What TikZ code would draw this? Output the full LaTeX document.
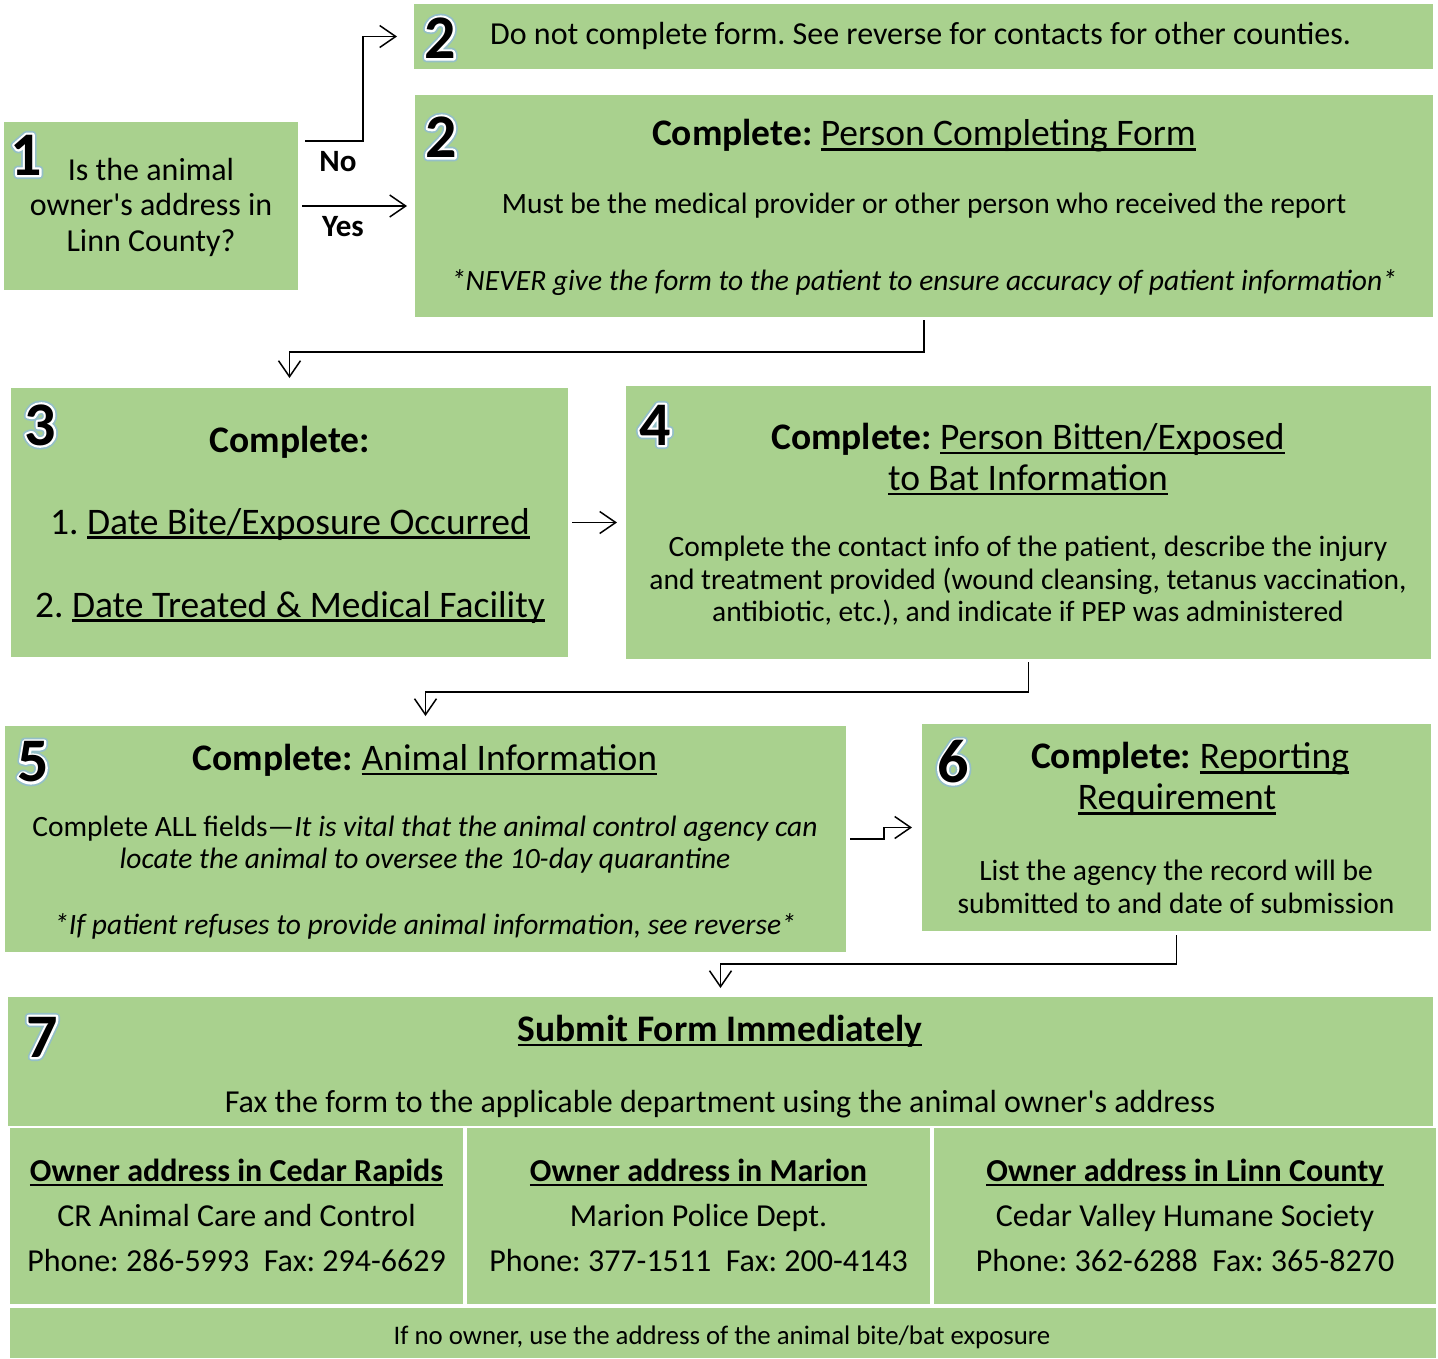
\documentclass[tikz,border=0pt]{standalone}
\usepackage{fontspec}
\setmainfont{Carlito}
\frenchspacing
\usetikzlibrary{arrows.meta,calc}
\definecolor{boxgreen}{HTML}{A9D18E}
\newcommand\fs[2]{\fontsize{#1}{#2}\selectfont}
\newlength\ulwd
\newcommand\uln[1]{\settowidth\ulwd{#1}\rlap{\rule[-0.13em]{\ulwd}{0.065em}}#1}
\tikzset{
  box/.style={fill=boxgreen, draw=none, anchor=north west, inner sep=0, outer sep=0},
  conn/.style={draw=black, line width=1.5pt, -{Straight Barb[length=16pt,width=22pt,line width=1.5pt]}},
  numtxt/.style={inner sep=0, font=\fs{62}{62}\bfseries},
  body/.style={inner sep=0, align=center, font=\fs{29.5}{33}},
  head/.style={inner sep=0, align=center, font=\fs{37.5}{41}},
  cell/.style={inner sep=0, font=\fs{32}{36}, text height=0.72em, text depth=0.22em},
  lbl/.style={inner sep=0, font=\fs{31}{34}\bfseries},
}
\newcommand\bignum[3]{%
  \node[numtxt] at (#2) {\special{pdf:literal direct q 1 Tr 8 w 1 j 0.58 0.75 0.78 RG}#3\special{pdf:literal direct Q}};
  \node[numtxt] at (#2) {\special{pdf:literal direct q 2 Tr 4.5 w 1 j 1 1 1 RG 1 1 1 rg}#3\special{pdf:literal direct Q}};
  \node[numtxt] (#1) at (#2) {#3};}
\begin{document}
\begin{tikzpicture}[x=1pt,y=-1pt]
\fill[white] (0,0) rectangle (1438,1358);
\useasboundingbox (0,0) rectangle (1438,1358);
% boxes
\node[box, minimum width=294, minimum height=168] (b1) at (4,122) {};
\node[box, minimum width=1019, minimum height=65] (b2a) at (414,4) {};
\node[box, minimum width=1018, minimum height=222] (b2b) at (415,95) {};
\node[box, minimum width=557, minimum height=269] (b3) at (11,388) {};
\node[box, minimum width=805, minimum height=273] (b4) at (626,386) {};
\node[box, minimum width=841, minimum height=226] (b5) at (5,726) {};
\node[box, minimum width=509, minimum height=207] (b6) at (922,724) {};
\node[box, minimum width=1425, minimum height=129] (b7) at (8,997) {};
\node[box, minimum width=453, minimum height=176] (c1) at (10,1128) {};
\node[box, minimum width=463, minimum height=176] (c2) at (467,1128) {};
\node[box, minimum width=502, minimum height=176] (c3) at (934,1128) {};
\node[box, minimum width=1426, minimum height=50] (b8) at (10,1308) {};
% numbers
\bignum{n1}{26,155}{1}
\bignum{n2a}{440,38}{2}
\bignum{n2b}{441,137}{2}
\bignum{n3}{40,425}{3}
\bignum{n4}{655,425}{4}
\bignum{n5}{33,762}{5}
\bignum{n6}{953,762}{6}
\bignum{n7}{42,1037}{7}
% box 1
\node[inner sep=0, align=center, font=\fs{32}{35.5}] (t1) at (151,207) {Is the animal\\owner\textquotesingle s address in\\Linn County?};
% box 2a
\node[inner sep=0, anchor=west, font=\fs{32}{36}] (t2a) at (490,36) {Do not complete form. See reverse for contacts for other counties.};
% box 2b
\node[head] (t2b1) at (924,136) {\textbf{Complete:} \uln{Person Completing Form}};
\node[body] (t2b2) at (924,206) {Must be the medical provider or other person who received the report};
\node[body, font=\fs{29.5}{33}\itshape] (t2b3) at (924,283) {*NEVER give the form to the patient to ensure accuracy of patient information*};
% box 3
\node[head, font=\fs{37.5}{41}\bfseries] (t31) at (290,442) {Complete:};
\node[head] (t32) at (290,524) {1. \uln{Date Bite/Exposure Occurred}};
\node[head] (t33) at (290,607) {2. \uln{Date Treated \& Medical Facility}};
% box 4
\node[head] (t41) at (1028,439) {\textbf{Complete:} \uln{Person Bitten/Exposed}};
\node[head] (t42) at (1028,480) {\uln{to Bat Information}};
\node[body, font=\fs{29.5}{32.5}] (t43) at (1028,581) {Complete the contact info of the patient, describe the injury\\and treatment provided (wound cleansing, tetanus vaccination,\\antibiotic, etc.), and indicate if PEP was administered};
% box 5
\node[head] (t51) at (425,760) {\textbf{Complete:} \uln{Animal Information}};
\node[body, font=\fs{29.5}{32}] (t52) at (425,845) {Complete ALL fields---\textit{It is vital that the animal control agency can}\\\textit{locate the animal to oversee the 10-day quarantine}};
\node[body, font=\fs{29.5}{33}\itshape] (t53) at (425,926) {*If patient refuses to provide animal information, see reverse*};
% box 6
\node[head] (t61) at (1190,759) {\textbf{Complete:} \uln{Reporting}};
\node[head] (t62) at (1177,800) {\uln{Requirement}};
\node[body, font=\fs{29.5}{33}] (t63) at (1176,887) {List the agency the record will be\\submitted to and date of submission};
% box 7
\node[head, font=\fs{37.5}{41}\bfseries] (t71) at (720,1031) {\uln{Submit Form Immediately}};
\node[body, font=\fs{32}{36}] (t72) at (720,1104) {Fax the form to the applicable department using the animal owner\textquotesingle s address};
\node[cell, font=\fs{32}{36}\bfseries] (c1h) at (236.5,1179) {\uln{Owner address in Cedar Rapids}};
\node[cell] (c1a) at (236.5,1224) {CR Animal Care and Control};
\node[cell] (c1b) at (236.5,1269) {Phone: 286-5993\ \ Fax: 294-6629};
\node[cell, font=\fs{32}{36}\bfseries] (c2h) at (698.5,1179) {\uln{Owner address in Marion}};
\node[cell] (c2a) at (698.5,1224) {Marion Police Dept.};
\node[cell] (c2b) at (698.5,1269) {Phone: 377-1511\ \ Fax: 200-4143};
\node[cell, font=\fs{32}{36}\bfseries] (c3h) at (1185,1179) {\uln{Owner address in Linn County}};
\node[cell] (c3a) at (1185,1224) {Cedar Valley Humane Society};
\node[cell] (c3b) at (1185,1269) {Phone: 362-6288\ \ Fax: 365-8270};
\node[body, font=\fs{26.8}{30}] (t8) at (722,1337) {If no owner, use the address of the animal bite/bat exposure};
% connectors
\draw[conn] ($(b1.east)+(7,-65)$) -| ($(b2a.west)+(-51,0)$) -- ($(b2a.west)+(-17,0)$);
\draw[conn] ($(b1.east)+(4,0)$) -- ($(b2b.west)+(-8,0)$);
\node[lbl] (no) at (338,162) {No};
\node[lbl] (yes) at (343,227) {Yes};
\draw[conn] ($(b2b.south)+(0,3)$) |- ($(b3.north)+(0,-36)$) -- ($(b3.north)+(0,-10)$);
\draw[conn] ($(b3.east)+(4,0)$) -- ($(b4.west)+(-9,0)$);
\draw[conn] ($(b4.south)+(0,3)$) |- ($(b5.north)+(0,-34)$) -- ($(b5.north)+(0,-10)$);
\draw[conn] ($(b5.east)+(4,0)$) -- ++(34,0) |- ($(b6.west)+(-10,0)$);
\draw[conn] ($(b6.south)+(0,4)$) |- ($(b7.north)+(0,-33)$) -- ($(b7.north)+(0,-9)$);
\end{tikzpicture}
\end{document}
